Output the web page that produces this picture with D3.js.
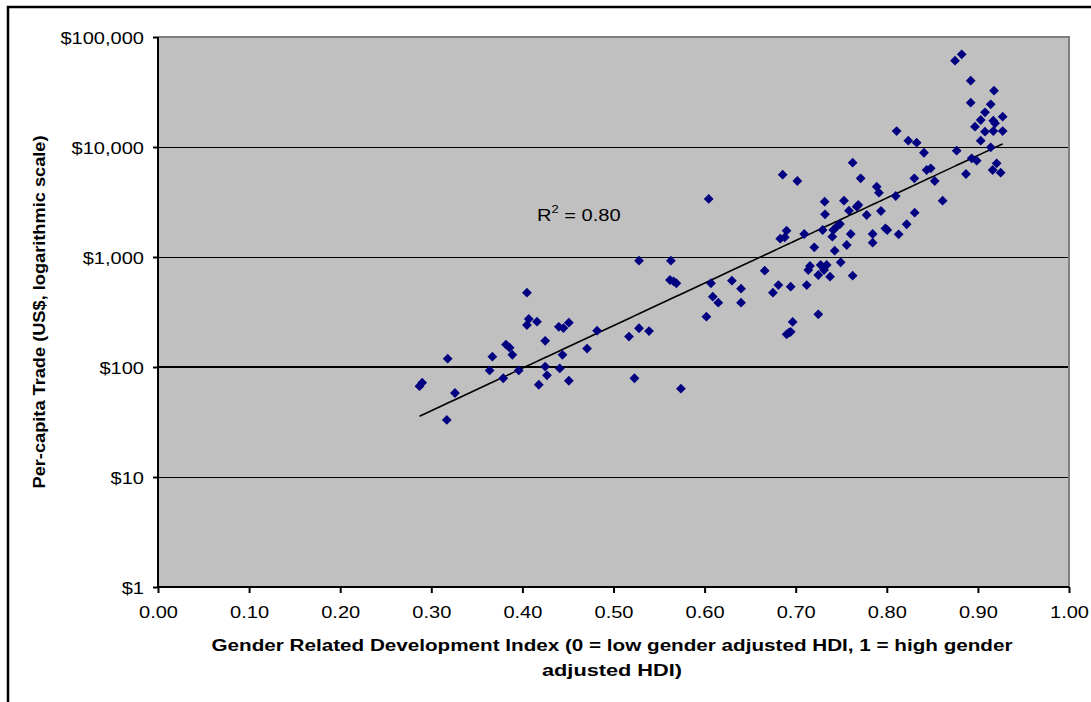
<!DOCTYPE html>
<html>
<head>
<meta charset="utf-8">
<script src="https://cdn.jsdelivr.net/npm/d3@7"></script>
<style>
  body { margin: 0; background: #fff; }
  svg text { font-family: "Liberation Sans", Arial, Helvetica, sans-serif; fill: #000; }
</style>
</head>
<body>
<svg id="chart" width="1091" height="702"></svg>
<script>
// Gender-related development index per country
const gdi = [
  0.287, 0.290, 0.317, 0.318, 0.326, 0.364, 0.367, 0.379, 0.382, 0.386,
  0.389, 0.396, 0.405, 0.407, 0.405, 0.416, 0.418, 0.425, 0.425, 0.427,
  0.440, 0.445, 0.441, 0.444, 0.451, 0.451, 0.471, 0.482,
  0.517, 0.523, 0.528, 0.528, 0.539, 0.563, 0.562, 0.566, 0.569, 0.574,
  0.602, 0.6045, 0.607, 0.609, 0.615, 0.630, 0.640, 0.640, 0.666, 0.675,
  0.681, 0.683, 0.6857, 0.688, 0.690, 0.690, 0.6925, 0.6945, 0.6945, 0.6967,
  0.7018, 0.7094, 0.7121, 0.7138, 0.7157, 0.7204, 0.7248, 0.7248, 0.7274, 0.7296,
  0.7311, 0.7318, 0.7322, 0.734, 0.7377, 0.7402, 0.7413, 0.7428, 0.745, 0.7486,
  0.7494, 0.753, 0.756, 0.7585, 0.7604, 0.7625, 0.7625, 0.767, 0.7687, 0.7713,
  0.7779, 0.7845, 0.7845, 0.7889, 0.7914, 0.7936, 0.7985, 0.8005, 0.8098, 0.8108,
  0.813, 0.8218, 0.8236, 0.8302, 0.8306, 0.8328, 0.8408, 0.8438, 0.8482, 0.8526,
  0.8613,
  0.8749, 0.8822, 0.8767, 0.8869, 0.8921, 0.8921, 0.8932, 0.8968, 0.8987, 0.9031,
  0.9031, 0.9078, 0.9078, 0.9141, 0.9141, 0.9162, 0.9169, 0.9169, 0.9177, 0.9188,
  0.9206, 0.925, 0.9272, 0.9272
];

// Per-capita trade in US$, same order as gdi
const trade = [
  67, 72, 33, 119, 58, 93, 124, 79, 160, 150,
  129, 93, 474, 273, 241, 258, 69, 173, 101, 84,
  232, 226, 97, 129, 253, 75, 147, 214,
  189, 79, 925, 225, 212, 925, 618, 600, 577, 63.5,
  287, 3370, 577, 436, 384, 609, 515, 384, 751, 474,
  556, 1467, 5600, 1510, 1734, 198, 205, 209, 537, 257,
  4910, 1619, 556, 762, 829, 1225, 686, 301, 846, 1760,
  762, 3184, 2445, 846, 662, 1530, 1760, 1141, 1887, 1995,
  895, 3250, 1285, 2637, 1619, 7200, 677, 2867, 2970, 5190,
  2410, 1619, 1349, 4360, 3843, 2620, 1820, 1760, 3587, 13970,
  1608, 1984, 11410, 5190, 2529, 10940, 8870, 6180, 6400, 4910,
  3250,
  60900, 69600, 9250, 5683, 40050, 25280, 7890, 15300, 7510, 17590,
  11410, 20660, 13770, 24430, 9940, 6180, 17340, 13970, 32500, 16420,
  7110, 5840, 18870, 13970
];

const yTickValues = [1, 10, 100, 1000, 10000, 100000];
const yGridValues = [10, 100, 1000, 10000];
const xTickValues = [0, 0.1, 0.2, 0.3, 0.4, 0.5, 0.6, 0.7, 0.8, 0.9, 1.0];
const xTitleLines = [
  "Gender Related Development Index (0 = low gender adjusted HDI, 1 = high gender",
  "adjusted HDI)"
];
const yTitle = "Per-capita Trade (US$, logarithmic scale)";
const r2Text = "0.80";

const svg = d3.select("#chart");
const W = 1091, H = 702;
const plot = { left: 158, top: 37, right: 1069, bottom: 587 };
const labelStretch = 1.18;

// Chart-area frame (extends past the window on the right and bottom)
svg.append("rect")
  .attr("x", 8).attr("y", 7)
  .attr("width", W + 20).attr("height", H + 20)
  .attr("fill", "#fff").attr("stroke", "#000").attr("stroke-width", 2.5);

const x = d3.scaleLinear().domain([0, 1]).range([plot.left, plot.right]);
const y = d3.scaleLog().domain([1, 100000]).range([plot.bottom, plot.top]);

// Plot area background
svg.append("rect")
  .attr("x", plot.left).attr("y", plot.top)
  .attr("width", plot.right - plot.left).attr("height", plot.bottom - plot.top)
  .attr("fill", "#C0C0C0");

// Horizontal gridlines; the $100 line is heavier
svg.append("g").selectAll("line").data(yGridValues).join("line")
  .attr("x1", plot.left).attr("x2", plot.right)
  .attr("y1", d => y(d)).attr("y2", d => y(d))
  .attr("stroke", "#000")
  .attr("stroke-width", d => d === 100 ? 2 : 1)
  .attr("shape-rendering", "crispEdges");

// Top and right border of the plot area
svg.append("path")
  .attr("d", `M${plot.left},${plot.top}H${plot.right}V${plot.bottom}`)
  .attr("fill", "none").attr("stroke", "#808080").attr("stroke-width", 2);

// Exponential trend fitted on log10(trade)
const lx = gdi, ly = trade.map(v => Math.log10(v));
const mx = d3.mean(lx), my = d3.mean(ly);
const sxy = d3.sum(lx, (v, i) => (v - mx) * (ly[i] - my));
const sxx = d3.sum(lx, v => (v - mx) ** 2);
const slope = sxy / sxx, intercept = my - slope * mx;
const trendX = [...gdi].sort(d3.ascending);
svg.append("path")
  .datum(trendX)
  .attr("fill", "none").attr("stroke", "#000").attr("stroke-width", 1.6)
  .attr("d", d3.line().x(d => x(d)).y(d => y(Math.pow(10, intercept + slope * d))));

// Data markers: navy diamonds
svg.append("g").selectAll("path").data(gdi).join("path")
  .attr("d", d3.symbol().type(d3.symbolSquare).size(48))
  .attr("transform", (d, i) => `translate(${x(d)},${y(trade[i])}) rotate(45)`)
  .attr("fill", "#000080");

function stretch(sel, anchorX) {
  sel.each(function () {
    const t = d3.select(this);
    const ax = anchorX != null ? anchorX : +t.attr("x") || 0;
    t.attr("transform", `translate(${ax},0) scale(${labelStretch},1) translate(${-ax},0)`);
  });
}

// Y axis
const yAxis = svg.append("g")
  .attr("transform", `translate(${plot.left},0)`)
  .call(d3.axisLeft(y).tickValues(yTickValues).tickSize(5).tickPadding(9)
    .tickFormat(d => "$" + d3.format(",")(d)));
yAxis.select(".domain").attr("stroke", "#000").attr("stroke-width", 2)
  .attr("d", `M0,${plot.top}V${plot.bottom}`);
yAxis.selectAll(".tick line").attr("stroke", "#000").attr("stroke-width", 2);
yAxis.selectAll(".tick text").attr("font-size", 17).attr("dy", "0.36em")
  .attr("font-family", "Liberation Sans, Arial, sans-serif");
stretch(yAxis.selectAll(".tick text"));

// X axis
const xAxis = svg.append("g")
  .attr("transform", `translate(0,${plot.bottom})`)
  .call(d3.axisBottom(x).tickValues(xTickValues).tickSize(6).tickPadding(13)
    .tickFormat(d3.format(".2f")));
xAxis.select(".domain").attr("stroke", "#000").attr("stroke-width", 2)
  .attr("d", `M${plot.left},0H${plot.right}`);
xAxis.selectAll(".tick line").attr("stroke", "#000").attr("stroke-width", 2);
xAxis.selectAll(".tick text").attr("font-size", 17)
  .attr("font-family", "Liberation Sans, Arial, sans-serif");
stretch(xAxis.selectAll(".tick text"), 0);

// R-squared annotation
const r2 = svg.append("text").attr("x", 537).attr("y", 221).attr("font-size", 17);
r2.append("tspan").text("R");
r2.append("tspan").attr("font-size", 11).attr("dy", -8).text("2");
r2.append("tspan").attr("dy", 8).text(" = " + r2Text);
stretch(r2, 537);

// Axis titles
svg.append("g").selectAll("text").data(xTitleLines).join("text")
  .attr("x", 612).attr("y", (d, i) => 651 + i * 25)
  .attr("text-anchor", "middle")
  .attr("font-size", 16).attr("font-weight", "bold")
  .attr("textLength", (d, i) => i === 0 ? 801 : 140)
  .attr("lengthAdjust", "spacingAndGlyphs")
  .text(d => d);

svg.append("text")
  .attr("transform", "translate(45,312) rotate(-90)")
  .attr("text-anchor", "middle")
  .attr("font-size", 16).attr("font-weight", "bold")
  .attr("textLength", 353).attr("lengthAdjust", "spacingAndGlyphs")
  .text(yTitle);
</script>
</body>
</html>
